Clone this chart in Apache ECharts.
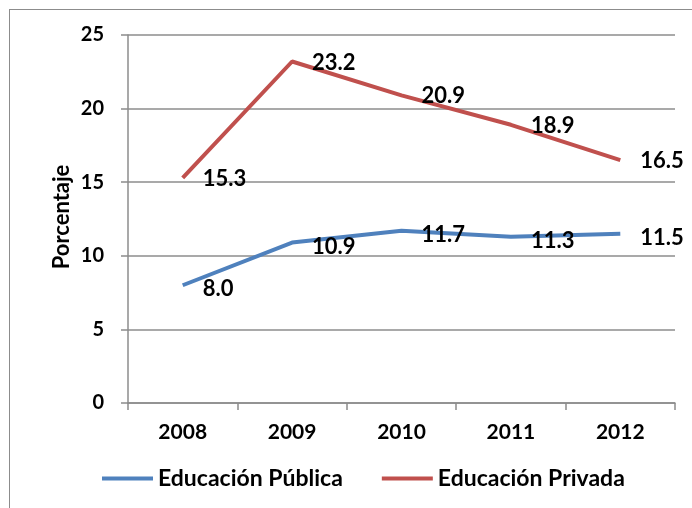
<!DOCTYPE html>
<html>
<head>
<meta charset="utf-8">
<script src="https://cdn.jsdelivr.net/npm/echarts@6/dist/echarts.min.js"></script>
<style>
  body{margin:0;background:#fff;}
  #frame{position:absolute;left:9px;top:9px;width:700px;height:520px;border:1px solid #8c8c8c;box-sizing:border-box;}
  #chart{position:absolute;left:0;top:0;width:692px;height:508px;}
</style>
</head>
<body>
<div id="frame"></div>
<div id="chart"></div>
<script>
var years = ['2008', '2009', '2010', '2011', '2012']
var publica = [8.0, 10.9, 11.7, 11.3, 11.5]
var privada = [15.3, 23.2, 20.9, 18.9, 16.5]
var yTicks = [0, 5, 10, 15, 20, 25]
var yTitle = 'Porcentaje'

var font = 'Lato, "Open Sans", sans-serif'
var myChart = echarts.init(document.getElementById('chart'))

// etiqueta de datos a la derecha del punto
function dataLabel(dy) {
  return {
    show: true, position: 'right', distance: 20, offset: [0, dy],
    fontFamily: font, fontWeight: 'bold', fontSize: 22, color: '#000',
    formatter: function (p) { return p.value.toFixed(1) }
  }
}

myChart.setOption({
  animation: false,
  grid: {left: 128, right: 17, top: 35, bottom: 105},
  // titulo del eje Y, girado
  graphic: [{
    type: 'text',
    x: 62,
    y: 217,
    rotation: Math.PI / 2,
    style: {
      text: yTitle,
      font: 'bold 22px Lato, "Open Sans", sans-serif',
      fill: '#000',
      align: 'center',
      verticalAlign: 'middle'
    }
  }],
  legend: {
    bottom: 13,
    left: 97,
    itemWidth: 51,
    itemHeight: 4,
    itemGap: 39,
    icon: 'rect',
    textStyle: {fontFamily: font, fontWeight: 'bold', fontSize: 23, color: '#000'},
    data: ['Educación Pública', 'Educación Privada']
  },
  xAxis: {
    type: 'category',
    data: years,
    boundaryGap: true,
    axisLine: {lineStyle: {color: '#8c8c8c', width: 1.5}},
    axisTick: {show: true, length: 7, lineStyle: {color: '#8c8c8c', width: 1.5}},
    axisLabel: {margin: 19, fontFamily: font, fontWeight: 'bold', fontSize: 21, color: '#000'}
  },
  yAxis: {
    type: 'value',
    min: 0,
    max: 25,
    interval: 5,
    axisLine: {show: true, lineStyle: {color: '#8c8c8c', width: 1.5}},
    axisTick: {show: true, length: 7, lineStyle: {color: '#8c8c8c', width: 1.5}},
    splitLine: {lineStyle: {color: '#8c8c8c', width: 1.5}},
    axisLabel: {
      margin: 24,
      fontFamily: font, fontWeight: 'bold', fontSize: 20, color: '#000',
      formatter: function (v) { return yTicks.indexOf(v) >= 0 ? String(v) : '' }
    }
  },
  series: [
    {
      name: 'Educación Pública',
      type: 'line',
      data: publica,
      symbol: 'circle',
      symbolSize: 0,
      showSymbol: true,
      color: '#4F81BD',
      lineStyle: {width: 4, color: '#4F81BD'},
      label: dataLabel(4)
    },
    {
      name: 'Educación Privada',
      type: 'line',
      data: privada,
      symbol: 'circle',
      symbolSize: 0,
      showSymbol: true,
      color: '#C0504D',
      lineStyle: {width: 4, color: '#C0504D'},
      label: dataLabel(1)
    }
  ]
})
</script>
</body>
</html>
